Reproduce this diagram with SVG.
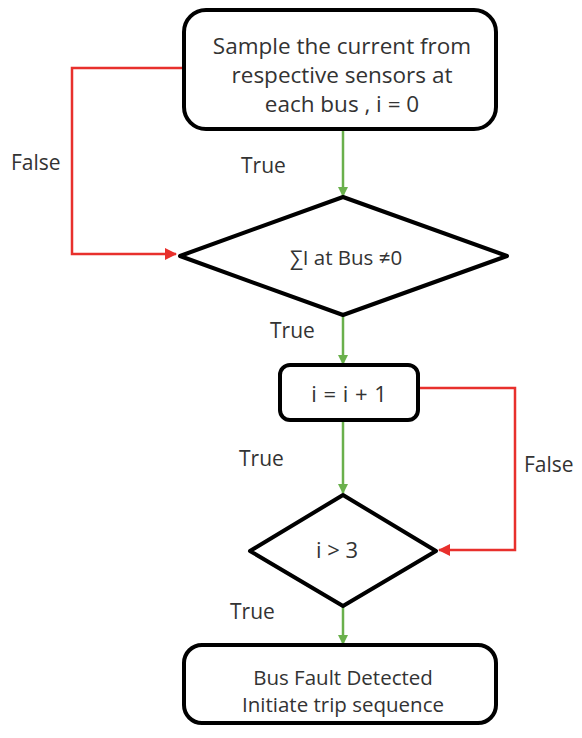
<svg xmlns="http://www.w3.org/2000/svg" width="582" height="738" viewBox="0 0 582 738">
  <style>
    .node { fill: #ffffff; stroke: #000000; stroke-width: 4; stroke-linejoin: round; }
    .txt { font-family: "Open Sans", "Liberation Sans", sans-serif; fill: #333333; text-anchor: middle; }
    .lbl { font-family: "Open Sans", "Liberation Sans", sans-serif; fill: #333333; font-size: 21px; }
    .yes { fill: none; stroke: #6ab04c; stroke-width: 2.5; }
    .no { fill: none; stroke: #e8302c; stroke-width: 2.5; }
  </style>
  <defs>
    <marker id="arrowGreen" markerWidth="10" markerHeight="10" refX="9" refY="5" orient="auto" markerUnits="userSpaceOnUse">
      <path d="M0,0 L10,5 L0,10 Z" fill="#6ab04c"/>
    </marker>
    <marker id="arrowRed" markerWidth="12" markerHeight="12" refX="11" refY="6" orient="auto" markerUnits="userSpaceOnUse">
      <path d="M0,0 L12,6 L0,12 Z" fill="#e8302c"/>
    </marker>
  </defs>

  <!-- connectors -->
  <g id="connectors">
    <path class="yes" d="M343,131 L343,196" marker-end="url(#arrowGreen)"/>
    <path class="no" d="M184,68 L72,68 L72,254 L176,254" marker-end="url(#arrowRed)"/>
    <path class="yes" d="M343,316 L343,364" marker-end="url(#arrowGreen)"/>
    <path class="yes" d="M343,421 L343,493" marker-end="url(#arrowGreen)"/>
    <path class="no" d="M419,388 L515,388 L515,550 L439,550" marker-end="url(#arrowRed)"/>
    <path class="yes" d="M343,606 L343,644" marker-end="url(#arrowGreen)"/>
    <text class="lbl" x="11" y="170">False</text>
    <text class="lbl" x="241" y="173">True</text>
    <text class="lbl" x="270" y="338">True</text>
    <text class="lbl" x="239" y="466">True</text>
    <text class="lbl" x="524" y="472">False</text>
    <text class="lbl" x="230" y="619">True</text>
  </g>

  <!-- sampling step -->
  <g id="sample">
    <rect class="node" x="184" y="10" width="312" height="119" rx="22"/>
    <text class="txt" font-size="22.5" x="342" y="54">Sample the current from</text>
    <text class="txt" font-size="22.5" x="342" y="83">respective sensors at</text>
    <text class="txt" font-size="22.5" x="342" y="112">each bus , i = 0</text>
  </g>

  <!-- current sum check -->
  <g id="sumCheck">
    <polygon class="node" points="343,197 507,256 343,315 180,256"/>
    <text class="txt" font-size="20.5" x="346" y="265">∑I at Bus ≠0</text>
  </g>

  <!-- counter increment -->
  <g id="increment">
    <rect class="node" x="280" y="365" width="138" height="55" rx="10"/>
    <text class="txt" font-size="22" word-spacing="1" x="349" y="402">i = i + 1</text>
  </g>

  <!-- counter check -->
  <g id="countCheck">
    <polygon class="node" points="343,495 436,551 343,606 250,551"/>
    <text class="txt" font-size="22" x="337" y="558">i &gt; 3</text>
  </g>

  <!-- fault result -->
  <g id="fault">
    <rect class="node" x="184" y="645" width="312" height="78" rx="18"/>
    <text class="txt" font-size="20.5" x="343" y="685">Bus Fault Detected</text>
    <text class="txt" font-size="20.5" x="343" y="712">Initiate trip sequence</text>
  </g>
</svg>
